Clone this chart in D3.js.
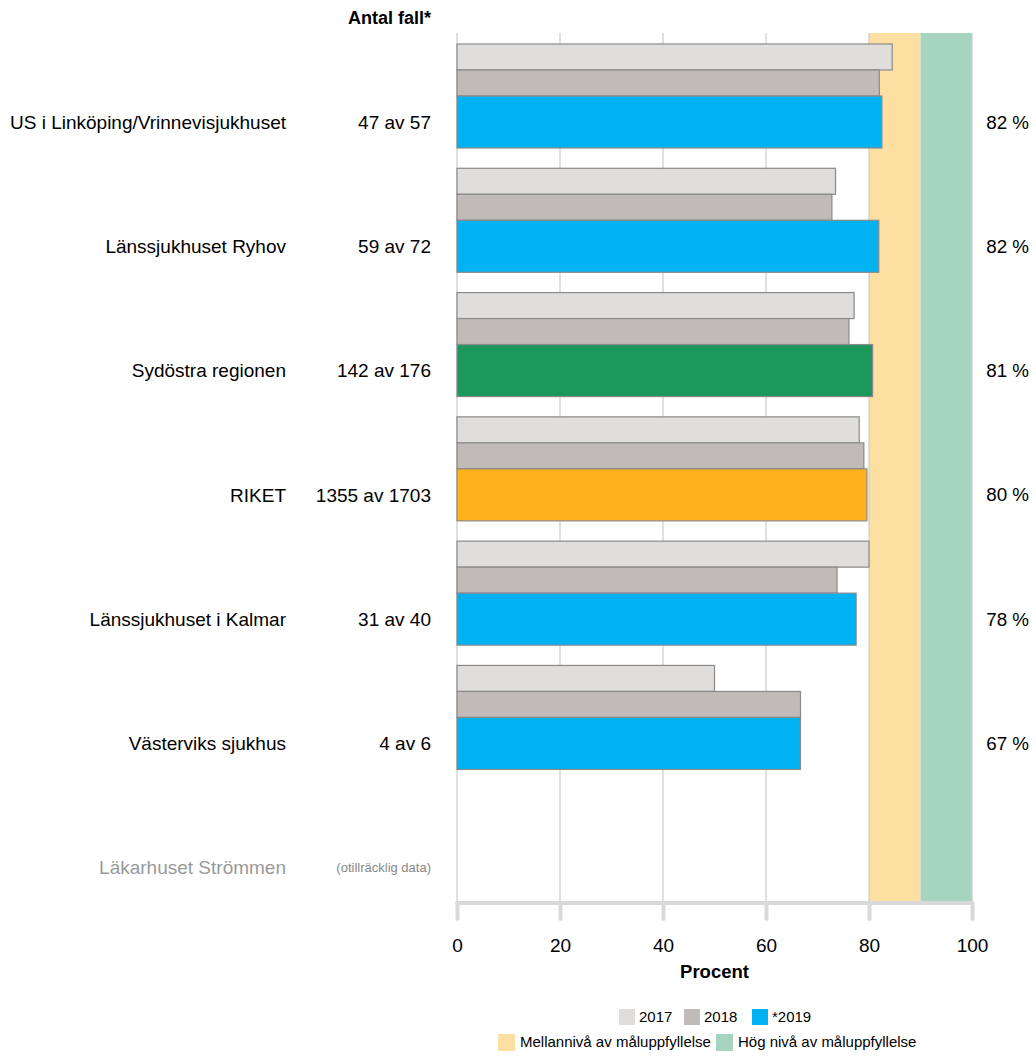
<!DOCTYPE html>
<html><head><meta charset="utf-8">
<script src="https://cdn.jsdelivr.net/npm/d3@7"></script>
<style>body{margin:0;background:#fff;} text{font-family:"Liberation Sans",Arial,sans-serif;}</style>
</head><body>
<svg id="chart" width="1036" height="1057"></svg>
<script>
const categories = ["US i Linköping/Vrinnevisjukhuset","Länssjukhuset Ryhov","Sydöstra regionen","RIKET","Länssjukhuset i Kalmar","Västerviks sjukhus","Läkarhuset Strömmen"];
const counts = ["47 av 57","59 av 72","142 av 176","1355 av 1703","31 av 40","4 av 6","(otillräcklig data)"];
const values2017 = [84.5, 73.5, 77.1, 78.1, 80.0, 50.0, null];
const values2018 = [82.0, 72.8, 76.1, 79.0, 73.8, 66.7, null];
const values2019 = [82.5, 81.9, 80.7, 79.6, 77.5, 66.7, null];
const pctLabels = ["82 %","82 %","81 %","80 %","78 %","67 %",""];
const seriesNames = ["2017","2018","*2019"];
const xTicks = [0,20,40,60,80,100];
const targetBands = [{from:80,to:90,label:"Mellannivå av måluppfyllelse"},{from:90,to:100,label:"Hög nivå av måluppfyllelse"}];

const colors = {s2017:"#dfdedd", s2018:"#c0bbb8", s2019:"#00b2f2", region:"#1c985c", riket:"#fdb11b", mid:"#fedfa2", high:"#a6d5bf"};

const svg = d3.select("#chart");
const x = d3.scaleLinear().domain([0,100]).range([457,972]);
const y = d3.scaleBand().domain(categories).range([33,903]);
const bw = y.bandwidth();
const pad = bw*0.0885, unit = bw*0.2092;

// target bands
svg.selectAll("rect.band").data(targetBands).enter().append("rect")
  .attr("x", d=>x(d.from)).attr("width", d=>x(d.to)-x(d.from))
  .attr("y", 33).attr("height", 903-33)
  .attr("fill", (d,i)=> i===0 ? colors.mid : colors.high);

// gridlines
svg.selectAll("line.grid").data(xTicks).enter().append("line")
  .attr("x1", d=>x(d)).attr("x2", d=>x(d)).attr("y1", 33).attr("y2", 903)
  .attr("stroke", "#cccccc").attr("stroke-width", 1.2);

// bars
const series = [
  {vals: values2017, off:0, h:1, color:()=>colors.s2017},
  {vals: values2018, off:1, h:1, color:()=>colors.s2018},
  {vals: values2019, off:2, h:2, color:(i)=> categories[i]==="Sydöstra regionen" ? colors.region : categories[i]==="RIKET" ? colors.riket : colors.s2019}
];
series.forEach(s=>{
  svg.append("g").selectAll("rect").data(s.vals.map((v,i)=>({v,i})).filter(d=>d.v!=null)).enter().append("rect")
    .attr("x", x(0)).attr("width", d=>x(d.v)-x(0))
    .attr("y", d=>y(categories[d.i]) + pad + s.off*unit)
    .attr("height", s.h*unit)
    .attr("fill", d=>s.color(d.i))
    .attr("stroke", "#8a8a8a").attr("stroke-width", 1.2);
});

// axis
const axis = d3.axisBottom(x).tickValues(xTicks).tickSize(16).tickPadding(20).tickFormat(d3.format("d"));
const gAxis = svg.append("g").attr("transform","translate(0,903)").call(axis);
gAxis.select(".domain").attr("stroke","#d9d9d9").attr("stroke-width",4).attr("d", `M${x(0)},0H${x(100)}`).attr("stroke-linecap","round");
gAxis.selectAll(".tick line").attr("stroke","#d9d9d9").attr("stroke-width",4).attr("stroke-linecap","round");
gAxis.selectAll(".tick text").attr("font-size",19).attr("fill","#000").attr("font-family","'Liberation Sans',Arial,sans-serif");

svg.append("text").attr("x", x(50)).attr("y", 978).attr("text-anchor","middle")
  .attr("font-size",18.5).attr("font-weight","bold").text("Procent");

// labels
const cy = c => y(c) + pad + 3*unit;
svg.selectAll("text.cat").data(categories).enter().append("text")
  .attr("x", 286).attr("y", d=>cy(d)).attr("dy","0.35em").attr("text-anchor","end")
  .attr("font-size",19).attr("fill",(d,i)=> values2019[i]==null ? "#999999" : "#000").text(d=>d);
svg.selectAll("text.cnt").data(counts).enter().append("text")
  .attr("x", 431).attr("y", (d,i)=>cy(categories[i])).attr("dy","0.35em").attr("text-anchor","end")
  .attr("font-size",(d,i)=> values2019[i]==null ? 13 : 19).attr("fill",(d,i)=> values2019[i]==null ? "#888888" : "#000").text(d=>d);
svg.selectAll("text.pct").data(pctLabels).enter().append("text")
  .attr("x", 1029).attr("y", (d,i)=>cy(categories[i])).attr("dy","0.35em").attr("text-anchor","end")
  .attr("font-size",18.8).text(d=>d);
svg.append("text").attr("x",431).attr("y",18).attr("dy","0.35em").attr("text-anchor","end")
  .attr("font-size",18).attr("font-weight","bold").text("Antal fall*");

// legend
const leg1 = [{n:seriesNames[0],c:colors.s2017,x:619},{n:seriesNames[1],c:colors.s2018,x:684},{n:seriesNames[2],c:colors.s2019,x:752}];
const g1 = svg.append("g");
leg1.forEach(d=>{
  g1.append("rect").attr("x",d.x).attr("y",1009).attr("width",16).attr("height",16).attr("fill",d.c);
  g1.append("text").attr("x",d.x+20).attr("y",1017).attr("dy","0.35em").attr("font-size",15).text(d.n);
});
const leg2 = [{n:targetBands[0].label,c:colors.mid,x:498},{n:targetBands[1].label,c:colors.high,x:716}];
leg2.forEach(d=>{
  g1.append("rect").attr("x",d.x).attr("y",1034).attr("width",17).attr("height",17).attr("fill",d.c);
  g1.append("text").attr("x",d.x+22).attr("y",1042).attr("dy","0.35em").attr("font-size",15).text(d.n);
});
</script>
</body></html>
